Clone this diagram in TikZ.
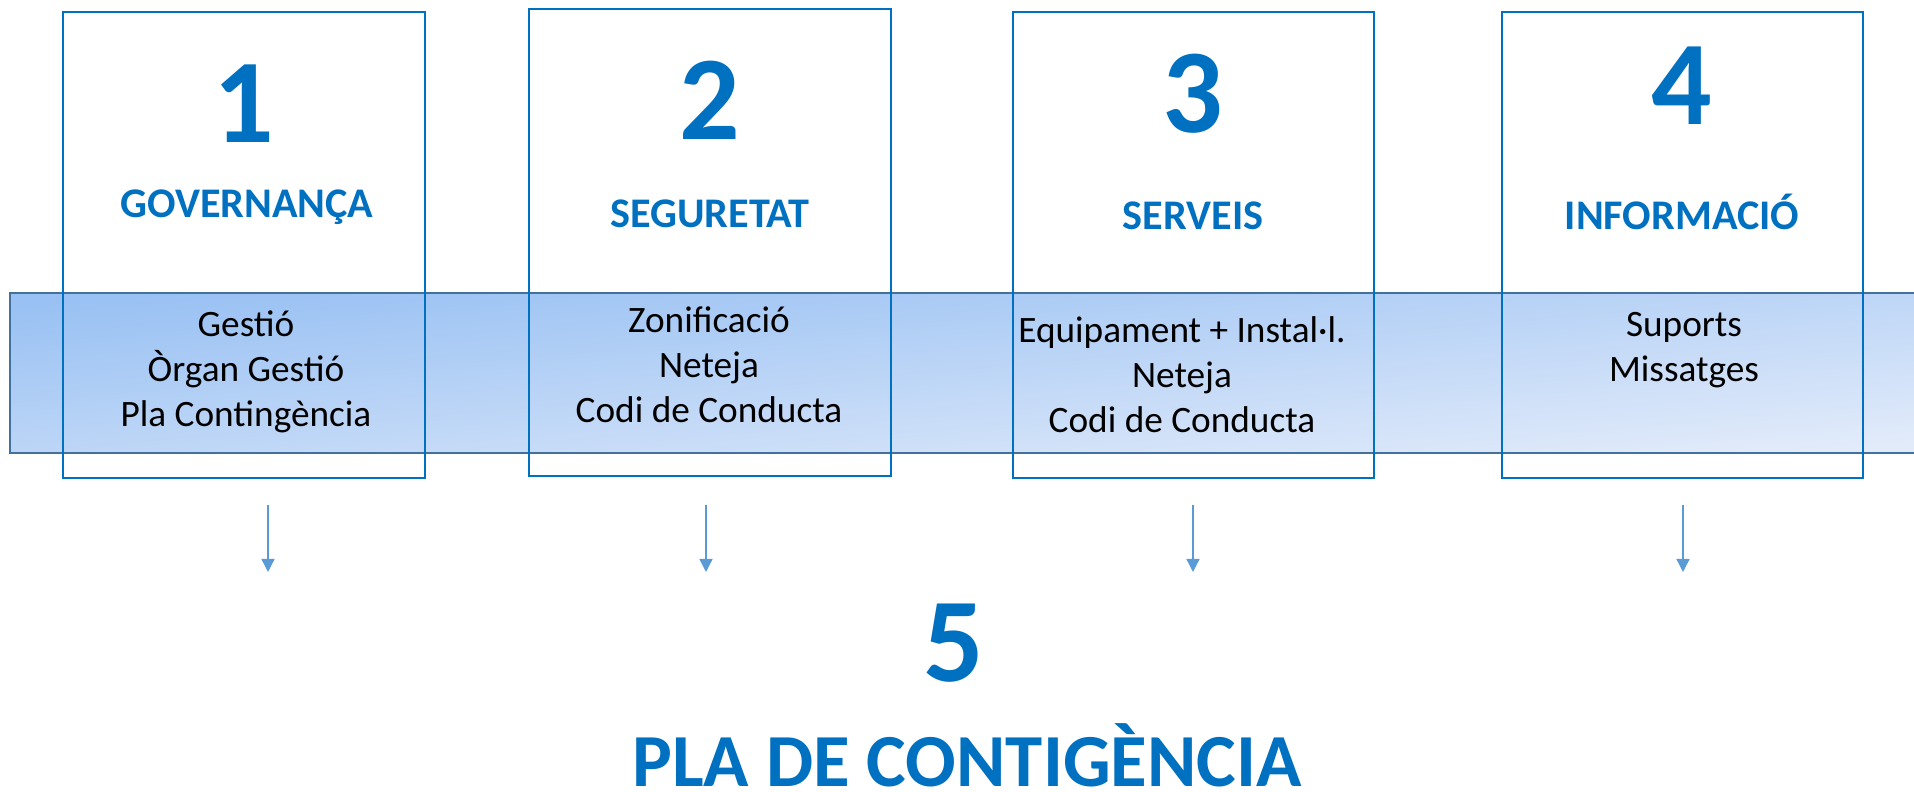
\documentclass[tikz,border=0pt]{standalone}
\usepackage{fontspec}
\setmainfont{Carlito}
\usetikzlibrary{positioning,
	calc,
	arrows.meta}
\definecolor{planblue}{HTML}{0070C0}
\definecolor{bandedge}{HTML}{41719C}
\definecolor{bandtop}{HTML}{99C1F3}
\definecolor{bandbottom}{HTML}{E2EBFA}
\definecolor{arrowblue}{HTML}{5B9BD5}
\tikzset{
	area/.style={draw=planblue, line width=0.2mm, minimum width=3.62cm, minimum height=4.66cm, inner sep=0pt, outer sep=0pt},
	band/.style={draw=bandedge, line width=0.2mm, top color=bandtop, bottom color=bandbottom, shading angle=5, inner sep=0pt, outer sep=0pt, anchor=north west},
	num/.style={text=planblue, font=\fontsize{34}{40}\selectfont\bfseries, anchor=base, inner sep=0pt},
	heading/.style={text=planblue, font=\fontsize{12}{14}\selectfont\bfseries, anchor=base, inner sep=0pt},
	items/.style={align=center, font=\fontsize{10.6}{12.8}\selectfont, anchor=base, inner sep=0pt},
	feed/.style={draw=arrowblue, line width=0.4pt, -{Triangle[length=1.3mm, width=1.3mm]}}
}

\begin{document}
\begin{tikzpicture}[x=0.01cm, y=-0.01cm]
                        \useasboundingbox (0,0) rectangle (1914,792);
                        % band behind the four areas
                        \node (band) [band, minimum width=19.3cm, minimum height=1.6cm] at (10,293) {};
                        \node (box1) [area] at (244,245) {};
                        \node (box2) [area, minimum height=4.67cm] at (710,242.5) {};
                        \node (box3) [area, minimum width=3.61cm] at (1193.5,245) {};
                        \node (box4) [area, minimum width=3.61cm] at (1682.5,245) {};
                        \node (num1) [num] at (244,143) {1};
                        \node (num2) [num] at (710,140) {2};
                        \node (num3) [num] at (1193,133) {3};
                        \node (num4) [num] at (1682,125) {4};
                        \node (head1) [heading] at (247,218) {GOVERNANÇA};
                        \node (head2) [heading] at (710,228) {SEGURETAT};
                        \node (head3) [heading] at (1193,230) {SERVEIS};
                        \node (head4) [heading] at (1682,230) {INFORMACIÓ};
                        % base of a list is its last line
                        \node (list1) [items] at (246,427) {Gestió\\Òrgan Gestió\\Pla Contingència};
                        \node (list2) [items] at (709,423) {Zonificació\\Neteja\\Codi de Conducta};
                        \node (list3) [items] at (1182,433) {Equipament + Instal·l.\\Neteja\\Codi de Conducta};
                        \node (list4) [items] at (1684,382) {Suports\\Missatges};
                        % arrows towards the plan
                        \coordinate (from1) at (268,505);
                        \coordinate (to1) at (268,572);
                        \coordinate (from2) at (706,505);
                        \coordinate (to2) at (706,572);
                        \coordinate (from3) at (1193,505);
                        \coordinate (to3) at (1193,572);
                        \coordinate (from4) at (1683,505);
                        \coordinate (to4) at (1683,572);
                        \draw [feed] (from1) -- (to1);
                        \draw [feed] (from2) -- (to2);
                        \draw [feed] (from3) -- (to3);
                        \draw [feed] (from4) -- (to4);
                        \node (num5) [num] at (954,682) {5};
                        \node (plan) [heading, font=\fontsize{21.3}{24}\selectfont\bfseries] at (967,787) {PLA DE CONTIGÈNCIA};
                    \end{tikzpicture}
\end{document}
